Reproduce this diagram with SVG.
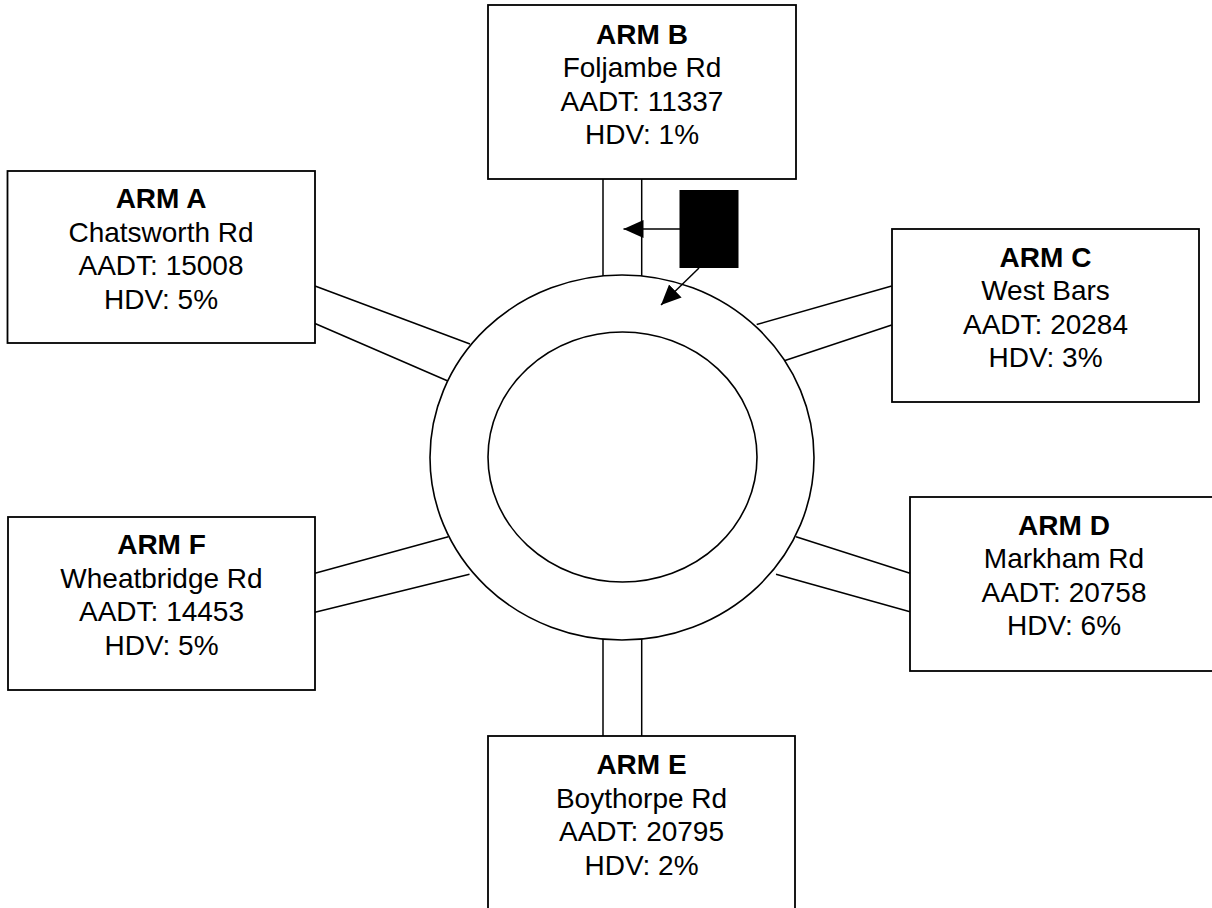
<svg xmlns="http://www.w3.org/2000/svg" width="1212" height="908" viewBox="0 0 1212 908">
<defs>
<style>
.box{fill:#fff;stroke:#000;stroke-width:1.8}
.road{stroke:#000;stroke-width:1.5;fill:none}
.ring{fill:#fff;stroke:#000;stroke-width:1.6}
text{font-family:"Liberation Sans",Arial,sans-serif;font-size:28px;fill:#000;text-anchor:middle}
.t{font-weight:bold}
</style>
<marker id="ah" markerUnits="userSpaceOnUse" markerWidth="22" markerHeight="20" refX="20" refY="9" orient="auto">
<path d="M0,0 L20,9 L0,18 z" fill="#000"/>
</marker>
</defs>
<rect width="1212" height="908" fill="#fff"/>
<g id="connectors">
<line class="road" x1="603" y1="179" x2="603" y2="276"/>
<line class="road" x1="641.7" y1="179" x2="641.7" y2="276"/>
<line class="road" x1="603" y1="639" x2="603" y2="736"/>
<line class="road" x1="641.7" y1="639" x2="641.7" y2="736"/>
<line class="road" x1="315" y1="286" x2="470" y2="344"/>
<line class="road" x1="315" y1="323.5" x2="449" y2="381.5"/>
<line class="road" x1="891.7" y1="286" x2="756.7" y2="324.5"/>
<line class="road" x1="891.7" y1="325" x2="776" y2="363.5"/>
<line class="road" x1="315" y1="573.3" x2="448.3" y2="536.7"/>
<line class="road" x1="315" y1="612.3" x2="469.5" y2="574.3"/>
<line class="road" x1="796" y1="536.7" x2="910" y2="573.3"/>
<line class="road" x1="776" y1="574.3" x2="910" y2="611.7"/>
</g>
<g id="roundabout">
<ellipse class="ring" cx="622" cy="457.5" rx="192" ry="182.5"/>
<ellipse class="ring" cx="622.5" cy="457" rx="134.5" ry="125"/>
</g>
<g id="marker-block">
<rect x="679.5" y="190" width="59" height="78" fill="#000"/>
<line class="road" x1="680" y1="229" x2="623.5" y2="229" marker-end="url(#ah)"/>
<line class="road" x1="699" y1="268" x2="661" y2="305" marker-end="url(#ah)"/>
</g>
<g id="arm-a">
<rect class="box" x="7.5" y="171" width="307.5" height="172"/>
<text x="161" y="208" class="t">ARM A</text>
<text x="161" y="241.5">Chatsworth Rd</text>
<text x="161" y="275">AADT: 15008</text>
<text x="161" y="308.5">HDV: 5%</text>
</g>
<g id="arm-b">
<rect class="box" x="488" y="5" width="308" height="174"/>
<text x="642" y="43.5" class="t">ARM B</text>
<text x="642" y="77">Foljambe Rd</text>
<text x="642" y="110.5">AADT: 11337</text>
<text x="642" y="144">HDV: 1%</text>
</g>
<g id="arm-c">
<rect class="box" x="892" y="229" width="307" height="173"/>
<text x="1045.5" y="266.5" class="t">ARM C</text>
<text x="1045.5" y="300">West Bars</text>
<text x="1045.5" y="333.5">AADT: 20284</text>
<text x="1045.5" y="367">HDV: 3%</text>
</g>
<g id="arm-d">
<rect class="box" x="910" y="497" width="310" height="174"/>
<text x="1064" y="534.5" class="t">ARM D</text>
<text x="1064" y="568">Markham Rd</text>
<text x="1064" y="601.5">AADT: 20758</text>
<text x="1064" y="635">HDV: 6%</text>
</g>
<g id="arm-e">
<rect class="box" x="488" y="736" width="307" height="180"/>
<text x="641.5" y="774" class="t">ARM E</text>
<text x="641.5" y="807.5">Boythorpe Rd</text>
<text x="641.5" y="841">AADT: 20795</text>
<text x="641.5" y="874.5">HDV: 2%</text>
</g>
<g id="arm-f">
<rect class="box" x="8" y="517" width="307" height="173"/>
<text x="161.5" y="554" class="t">ARM F</text>
<text x="161.5" y="587.5">Wheatbridge Rd</text>
<text x="161.5" y="621">AADT: 14453</text>
<text x="161.5" y="654.5">HDV: 5%</text>
</g>
</svg>
